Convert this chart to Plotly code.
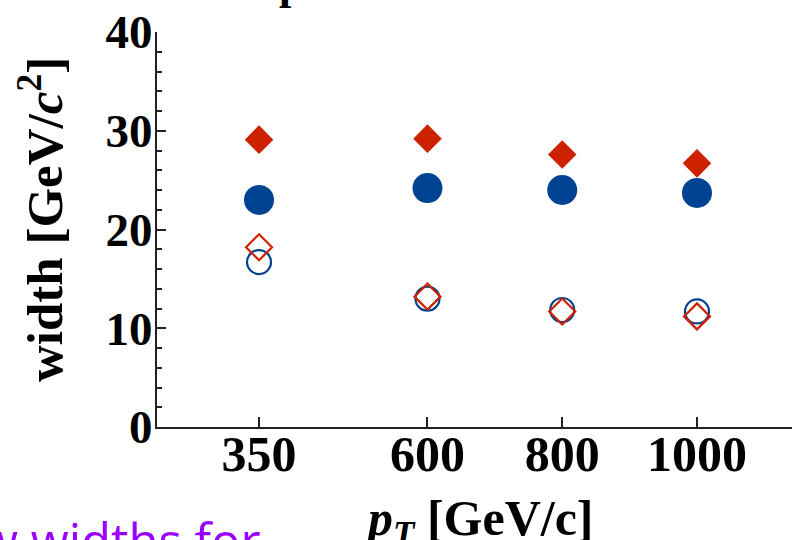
import plotly.graph_objects as go

pt = [350, 600, 800, 1000]
filled_diamond = [29.1, 29.2, 27.6, 26.7]
filled_circle = [23.0, 24.2, 24.0, 23.7]
open_circle = [16.7, 13.0, 11.85, 11.7]
open_diamond = [18.2, 13.2, 11.7, 11.2]
x_ticks = [350, 600, 800, 1000]
y_ticks = [0, 10, 20, 30, 40]

RED = "#cc2200"
BLUE = "#004392"
SERIF = "Liberation Serif"

W, H = 792, 540
L, R, T, B = 157, 0, 32, 113
PW, PH = W - L - R, H - T - B


def px(x):
    return (x - L) / PW


def py(y):
    return (H - B - y) / PH


fig = go.Figure()
fig.add_trace(go.Scatter(x=pt, y=open_circle, mode="markers",
                         marker=dict(symbol="circle-open", size=24, color=BLUE, line=dict(width=2.2, color=BLUE))))
fig.add_trace(go.Scatter(x=pt, y=open_diamond, mode="markers",
                         marker=dict(symbol="diamond-open", size=20, color=RED, line=dict(width=2.2, color=RED))))
fig.add_trace(go.Scatter(x=pt, y=filled_circle, mode="markers",
                         marker=dict(symbol="circle", size=30, color=BLUE, line=dict(width=0))))
fig.add_trace(go.Scatter(x=pt, y=filled_diamond, mode="markers",
                         marker=dict(symbol="diamond", size=22, color=RED, line=dict(width=0))))

fig.update_layout(
    width=W, height=H,
    margin=dict(l=L, r=R, t=T, b=B, autoexpand=False),
    paper_bgcolor="white", plot_bgcolor="white",
    showlegend=False,
    font=dict(family=SERIF, color="black"),
)
fig.update_xaxes(
    range=[198.6, 1141], tickvals=x_ticks, ticktext=[str(v) for v in x_ticks],
    automargin=False,
    showgrid=False, zeroline=False, showline=True, linecolor="#222", linewidth=2,
    ticks="inside", ticklen=10, tickwidth=1.5, tickcolor="#222",
    tickfont=dict(family=SERIF, size=50, weight="bold", color="black"),
    ticklabelstandoff=-18,
)
fig.update_yaxes(
    range=[0, 40], tickvals=y_ticks,
    automargin=False,
    showgrid=False, zeroline=False, showline=True, linecolor="#222", linewidth=2,
    ticks="inside", ticklen=9, tickwidth=1.5, tickcolor="#222",
    minor=dict(ticks="inside", ticklen=5, dtick=2, tickwidth=1.5, tickcolor="#222"),
    tickfont=dict(family=SERIF, size=47, weight="bold", color="black"),
    ticklabelstandoff=-7,
)

# axis titles
fig.add_annotation(text="width [GeV/<i>c</i><sup>2</sup>]", xref="paper", yref="paper",
                   x=px(41), y=py(220), xanchor="center", yanchor="middle", textangle=-90,
                   showarrow=False, font=dict(family=SERIF, size=51, weight="bold", color="black"))
fig.add_annotation(text="<i>p</i><sub><i>T</i></sub> [GeV/c]", xref="paper", yref="paper",
                   x=px(478), y=py(522), xanchor="center", yanchor="middle",
                   showarrow=False, font=dict(family=SERIF, size=50, weight="bold", color="black"))

# cropped texts at the edges of the slide
fig.add_annotation(text="p", xref="paper", yref="paper", x=px(291), y=py(11),
                   xanchor="center", yanchor="bottom", showarrow=False,
                   font=dict(family=SERIF, size=44, weight="bold", color="black"))
fig.add_annotation(text="w widths for", xref="paper", yref="paper", x=px(-22), y=py(575),
                   xanchor="left", yanchor="bottom", showarrow=False,
                   font=dict(family="Open Sans", size=49, color="#9900ff"))

fig.write_html("out.html", post_script="document.body.style.margin='0';",
               config={"displayModeBar": False})
